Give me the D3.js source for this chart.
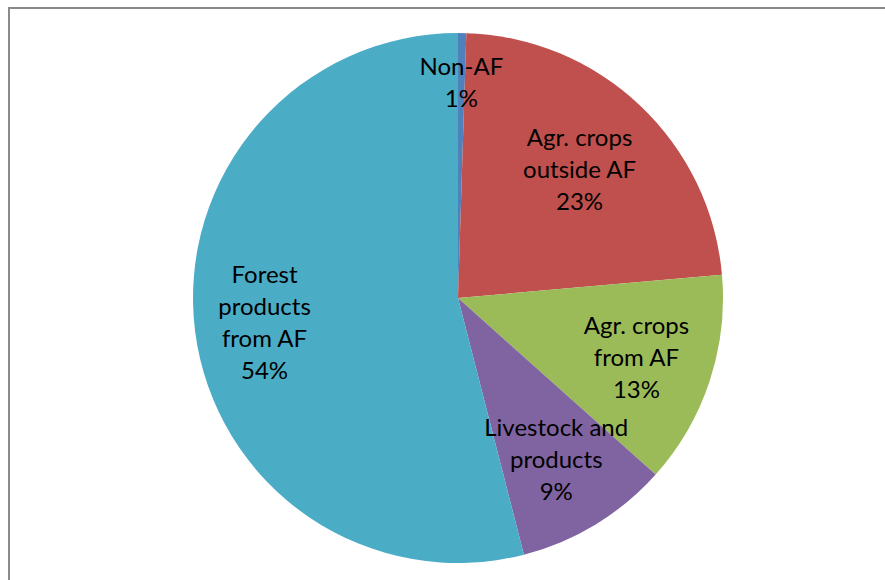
<!DOCTYPE html>
<html>
<head>
<meta charset="utf-8">
<script src="https://cdn.jsdelivr.net/npm/d3@7"></script>
<style>
  html, body { margin: 0; padding: 0; background: #fff; }
  svg { display: block; }
</style>
</head>
<body>
<svg id="chart" width="885" height="580"></svg>
<script>
// Share of income by source (%)
const categories = [
  "Non-AF",
  "Agr. crops outside AF",
  "Agr. crops from AF",
  "Livestock and products",
  "Forest products from AF"
];
const shares = [0.5, 23.1, 13.0, 9.4, 54.0];
// Wrapped lines used for each slice label
const labelLines = [
  ["Non-AF"],
  ["Agr. crops", "outside AF"],
  ["Agr. crops", "from AF"],
  ["Livestock and", "products"],
  ["Forest", "products", "from AF"]
];
const colors = ["#4F81BD", "#C0504D", "#9BBB59", "#8064A2", "#4BACC6"];

const width = 885, height = 580;
const cx = 458, cy = 298, radius = 265;
// Distance of each label block's centre from the pie centre
const labelDist = [215, 177, 188, 189, 195];

const svg = d3.select("#chart");

// Chart frame (only the top and left edges fall inside the view)
svg.append("rect")
  .attr("x", 9).attr("y", 8)
  .attr("width", 1000).attr("height", 1000)
  .attr("fill", "none")
  .attr("stroke", "#8a8a8a")
  .attr("stroke-width", 2);

const data = categories.map((c, i) => ({ name: c, value: shares[i], lines: labelLines[i], color: colors[i], i }));

const pie = d3.pie().value(d => d.value).sort(null);
const arcs = pie(data);

const arc = d3.arc().innerRadius(0).outerRadius(radius);

const g = svg.append("g").attr("transform", `translate(${cx},${cy})`);

g.selectAll("path.slice")
  .data(arcs)
  .join("path")
  .attr("class", "slice")
  .attr("d", arc)
  .attr("fill", d => d.data.color);

// Labels: name lines followed by the rounded percentage
const lineH = 32;
const total = d3.sum(shares);

g.selectAll("text.label")
  .data(arcs)
  .join("text")
  .attr("class", "label")
  .attr("font-family", "Lato, 'Open Sans', sans-serif")
  .attr("font-size", 24)
  .attr("fill", "#000")
  .attr("text-anchor", "middle")
  .each(function(d) {
    const pct = Math.round(d.data.value / total * 100) + "%";
    const lines = d.data.lines.concat([pct]);
    const r = labelDist[d.data.i];
    const c = d3.arc().innerRadius(r).outerRadius(r).centroid(d);
    const top = c[1] - (lines.length - 1) * lineH / 2;
    const t = d3.select(this);
    lines.forEach((ln, i) => {
      t.append("tspan")
        .attr("x", c[0])
        .attr("y", top + i * lineH)
        .attr("dy", "0.35em")
        .text(ln);
    });
  });
</script>
</body>
</html>
